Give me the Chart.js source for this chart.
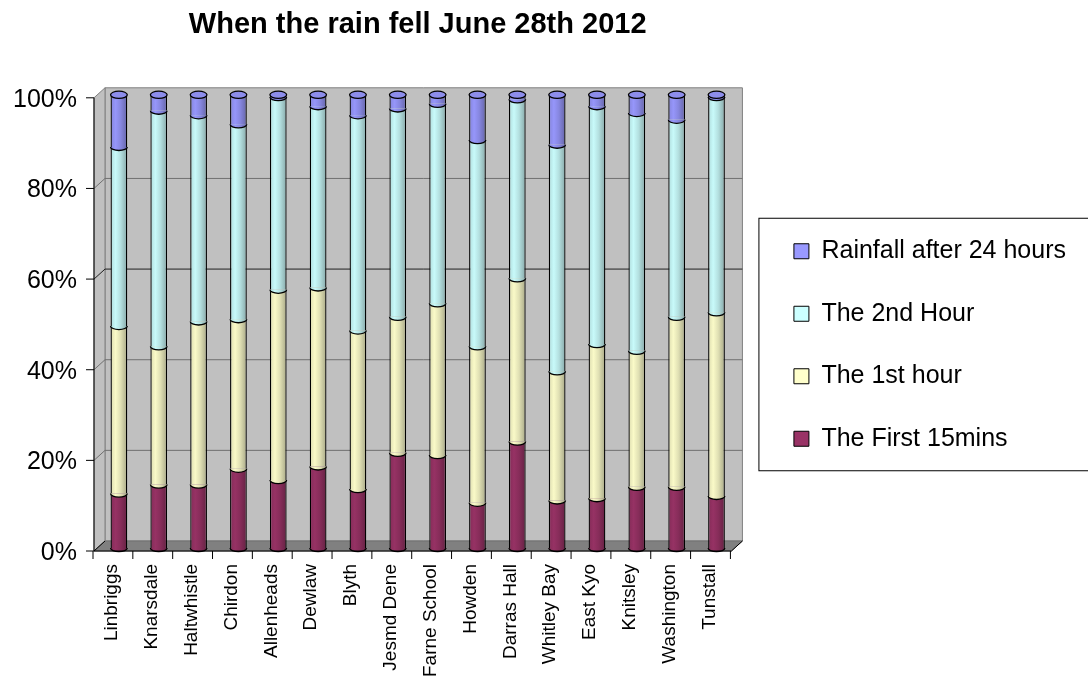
<!DOCTYPE html>
<html>
<head>
<meta charset="utf-8">
<script src="https://cdn.jsdelivr.net/npm/chart.js@4.4.1/dist/chart.umd.min.js"></script>
<style>
  html, body { margin: 0; padding: 0; background: #fff; }
  #wrap { width: 1088px; height: 678px; }
</style>
</head>
<body>
<div id="wrap"><canvas id="chart" width="1088" height="678"></canvas></div>
<script>
const sites = ['Linbriggs', 'Knarsdale', 'Haltwhistle', 'Chirdon', 'Allenheads', 'Dewlaw', 'Blyth', 'Jesmd Dene',
  'Farne School', 'Howden', 'Darras Hall', 'Whitley Bay', 'East Kyo', 'Knitsley', 'Washington', 'Tunstall'];

// share of the day's rain (%) in each period
const first15 = [12, 14, 14, 17.5, 15, 18, 13, 21, 20.5, 10, 23.5, 10.5, 11, 13.5, 13.5, 11.5];
const firstHour = [37, 30.5, 36, 33, 42, 39.5, 35, 30, 33.5, 34.5, 36, 28.5, 34, 30, 37.5, 40.5];
const secondHour = [39.5, 52, 45.5, 43, 42.5, 40, 47.5, 46, 44, 45.5, 39.5, 50, 52.5, 52.5, 43.5, 47.5];
const after24 = [11.5, 3.5, 4.5, 6.5, 0.5, 2.5, 4.5, 3, 2, 10, 1, 11, 2.5, 4, 5.5, 0.5];

const seriesNames = ['The First 15mins', 'The 1st hour', 'The 2nd Hour', 'Rainfall after 24 hours'];
const seriesColors = ['#993366', '#ffffcc', '#ccffff', '#9999ff'];
const seriesValues = [first15, firstHour, secondHour, after24];

const yTickValues = [0, 20, 40, 60, 80, 100];

// 3d offsets of the front axis and back wall relative to the bar plane
const FRONT = { dx: -5, dy: 3 };
const BACK = { dx: 6, dy: -7 };
const CAP_RY = 3.6;
const BAR_FRACTION = 0.42;

function shade(hex, f) {
  const n = parseInt(hex.slice(1), 16);
  const t = f < 0 ? 0 : 255;
  const p = Math.abs(f);
  const mix = c => Math.round(c + (t - c) * p);
  return `rgb(${mix(n >> 16)},${mix((n >> 8) & 255)},${mix(n & 255)})`;
}

function cylGradient(ctx, cx, w, hex) {
  const g = ctx.createLinearGradient(cx - w / 2, 0, cx + w / 2, 0);
  g.addColorStop(0, shade(hex, -0.14));
  g.addColorStop(0.3, shade(hex, -0.02));
  g.addColorStop(0.6, shade(hex, -0.12));
  g.addColorStop(1, shade(hex, -0.34));
  return g;
}

function barWidthOf(xs) {
  return (xs.getPixelForValue(1) - xs.getPixelForValue(0)) * BAR_FRACTION;
}

const wallsPlugin = {
  id: 'walls',
  beforeDatasetsDraw(chart) {
    const { ctx, chartArea: a, scales: { y } } = chart;
    const yF = v => y.getPixelForValue(v) + FRONT.dy;
    const yB = v => y.getPixelForValue(v) + BACK.dy;
    const xF0 = a.left + FRONT.dx, xF1 = a.right + FRONT.dx;
    const xB0 = a.left + BACK.dx, xB1 = a.right + BACK.dx;
    const poly = (pts, fill, stroke) => {
      ctx.beginPath();
      pts.forEach((p, i) => (i ? ctx.lineTo(p[0], p[1]) : ctx.moveTo(p[0], p[1])));
      ctx.closePath();
      ctx.fillStyle = fill;
      ctx.fill();
      ctx.strokeStyle = stroke;
      ctx.stroke();
    };
    ctx.save();
    ctx.lineWidth = 1;
    poly([[xB0, yB(100)], [xB1, yB(100)], [xB1, yB(0)], [xB0, yB(0)]], '#c0c0c0', '#808080');
    poly([[xF0, yF(100)], [xB0, yB(100)], [xB0, yB(0)], [xF0, yF(0)]], '#c0c0c0', '#808080');
    poly([[xF0, yF(0)], [xB0, yB(0)], [xB1, yB(0)], [xF1, yF(0)]], '#808080', '#707070');
    y.ticks.forEach(t => {
      if (t.value === 0 || t.value === 100) return;
      ctx.strokeStyle = t.value === 60 ? '#202020' : '#707070';
      ctx.beginPath();
      ctx.moveTo(xF0, yF(t.value));
      ctx.lineTo(xB0, yB(t.value));
      ctx.lineTo(xB1, yB(t.value));
      ctx.stroke();
    });
    ctx.restore();
  },
  afterDatasetsDraw(chart) {
    const { ctx, chartArea: a, scales: { x, y } } = chart;
    const metas = chart.data.datasets.map((d, i) => chart.getDatasetMeta(i));
    const last = metas.length - 1;
    ctx.save();
    ctx.lineWidth = 1.3;
    ctx.strokeStyle = '#000';
    for (let i = 0; i < chart.data.labels.length; i++) {
      metas.forEach((m, d) => {
        const el = m.data[i];
        const rx = el.width / 2;
        // visible front arc at the bottom of each segment
        ctx.beginPath();
        ctx.ellipse(el.x, el.base, rx, CAP_RY, 0, 0, Math.PI);
        ctx.fillStyle = cylGradient(ctx, el.x, el.width, seriesColors[d]);
        ctx.fill();
        ctx.stroke();
        if (d === last) {
          ctx.beginPath();
          ctx.ellipse(el.x, el.y, rx, CAP_RY, 0, 0, Math.PI * 2);
          ctx.fillStyle = shade(seriesColors[d], -0.08);
          ctx.fill();
          ctx.stroke();
        }
      });
    }
    // front axes
    const yF = v => y.getPixelForValue(v) + FRONT.dy;
    const yB = v => y.getPixelForValue(v) + BACK.dy;
    const xF0 = a.left + FRONT.dx, xF1 = a.right + FRONT.dx;
    const xB0 = a.left + BACK.dx;
    ctx.lineWidth = 1;
    ctx.strokeStyle = '#000';
    ctx.beginPath();
    ctx.moveTo(xF0, yF(100));
    ctx.lineTo(xF0, yF(0));
    ctx.lineTo(xF1, yF(0));
    ctx.lineTo(a.right + BACK.dx, yB(0));
    ctx.moveTo(xF0, yF(0));
    ctx.lineTo(xB0, yB(0));
    y.ticks.forEach(t => {
      ctx.moveTo(xF0 - 8, yF(t.value));
      ctx.lineTo(xF0, yF(t.value));
    });
    const step = x.getPixelForValue(1) - x.getPixelForValue(0);
    for (let i = 0; i <= chart.data.labels.length; i++) {
      const px = x.getPixelForValue(i) - step / 2 + FRONT.dx - 1;
      ctx.moveTo(px, yF(0));
      ctx.lineTo(px, yF(0) + 8);
    }
    ctx.stroke();
    ctx.restore();
  },
  afterDraw(chart) {
    const lg = chart.legend;
    if (!lg || !lg.legendHitBoxes || !lg.legendHitBoxes.length) return;
    const hb = lg.legendHitBoxes;
    const top = hb[0].top - 21;
    const bottom = hb[hb.length - 1].top + hb[hb.length - 1].height + 19;
    const { ctx } = chart;
    ctx.save();
    ctx.strokeStyle = '#000';
    ctx.lineWidth = 1;
    ctx.strokeRect(lg.left + 2.5, top + 0.5, chart.width, bottom - top);
    ctx.restore();
  }
};

Chart.defaults.font.family = '"Liberation Sans", Arial, sans-serif';
Chart.defaults.color = '#000';

const datasets = seriesNames.map((name, d) => ({
  label: name,
  data: seriesValues[d],
  backgroundColor: c => {
    const ch = c.chart;
    if (!ch.chartArea || c.dataIndex === undefined) return seriesColors[d];
    const xs = ch.scales.x;
    return cylGradient(ch.ctx, xs.getPixelForValue(c.dataIndex), barWidthOf(xs), seriesColors[d]);
  },
  borderColor: '#000',
  borderWidth: { left: 1.3, right: 1.3, top: 0, bottom: 0 },
  borderSkipped: false,
  barPercentage: BAR_FRACTION,
  categoryPercentage: 1
}));

new Chart(document.getElementById('chart'), {
  type: 'bar',
  data: { labels: sites, datasets },
  options: {
    responsive: false,
    animation: false,
    devicePixelRatio: 1,
    layout: { padding: { right: 12 } },
    plugins: {
      title: {
        display: true,
        text: 'When the rain fell June 28th 2012',
        fullSize: false,
        font: { size: 29, weight: 'bold' },
        padding: { top: 8, bottom: 52 }
      },
      legend: {
        position: 'right',
        reverse: true,
        maxWidth: 420,
        title: { display: true, text: '', font: { size: 10 }, padding: 0 },
        labels: {
          font: { size: 25 },
          boxWidth: 15,
          boxHeight: 15,
          padding: 37.5,
          generateLabels: chart => chart.data.datasets.map((ds, i) => ({
            text: ds.label,
            fillStyle: seriesColors[i],
            strokeStyle: '#000',
            lineWidth: 1,
            hidden: false,
            datasetIndex: i
          }))
        }
      },
      tooltip: { enabled: false }
    },
    scales: {
      x: {
        stacked: true,
        grid: { display: false, drawTicks: false },
        border: { display: false },
        ticks: {
          font: { size: 19 },
          minRotation: 90,
          maxRotation: 90,
          autoSkip: false,
          padding: 16,
          labelOffset: -7
        },
        afterFit: s => { s.height = 130; }
      },
      y: {
        stacked: true,
        min: 0,
        max: 100,
        afterBuildTicks: s => { s.ticks = yTickValues.map(v => ({ value: v })); },
        grid: { display: false, drawTicks: false },
        border: { display: false },
        ticks: { font: { size: 25 }, padding: 22, labelOffset: 5, callback: v => v + '%' },
        afterFit: s => { s.width = 99; }
      },
      ySpace: {
        type: 'linear',
        position: 'right',
        grid: { display: false, drawTicks: false },
        border: { display: false },
        ticks: { display: false },
        afterFit: s => { s.width = 20; }
      }
    }
  },
  plugins: [wallsPlugin]
});
</script>
</body>
</html>
